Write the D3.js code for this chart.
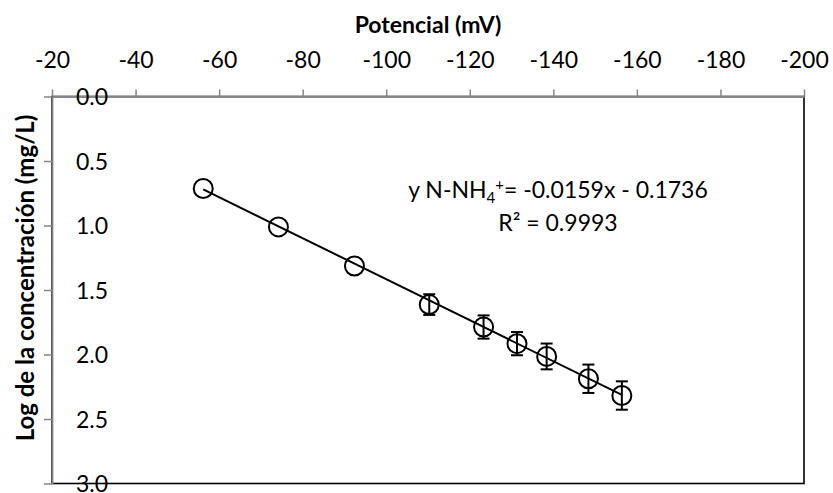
<!DOCTYPE html>
<html>
<head>
<meta charset="utf-8">
<script src="https://cdn.jsdelivr.net/npm/d3@7"></script>
<style>
  html, body { margin: 0; padding: 0; background: #fff; }
  svg { display: block; font-family: Lato, "Open Sans", sans-serif; }
</style>
</head>
<body>
<svg id="chart" width="833" height="493"></svg>
<script>
// ---- data ----
const potential = [-56.2, -74.2, -92.4, -110.3, -123.3, -131.3, -138.4, -148.4, -156.4];
const logConc   = [0.713, 1.011, 1.314, 1.613, 1.787, 1.916, 2.015, 2.188, 2.318];
const errLog    = [0, 0, 0, 0.08, 0.09, 0.09, 0.10, 0.11, 0.11];
const xTicks = [-20, -40, -60, -80, -100, -120, -140, -160, -180, -200];
const yTicks = [0.0, 0.5, 1.0, 1.5, 2.0, 2.5, 3.0];
const slope = -0.0159, intercept = -0.1736, r2 = "0.9993";
const xTitle = "Potencial (mV)";
const yTitle = "Log de la concentración (mg/L)";

// ---- layout ----
const L = 52, R = 804, T = 96.5, B = 483.5;
const svg = d3.select("#chart");
const x = d3.scaleLinear().domain([-20, -200]).range([L, R]);
const y = d3.scaleLinear().domain([0, 3]).range([T, B]);

// plot area border
svg.append("rect").attr("x", L).attr("y", T).attr("width", R - L).attr("height", B - T)
  .attr("fill", "none").attr("stroke", "#000").attr("stroke-width", 1.6);

// top axis
const gx = svg.append("g").attr("transform", `translate(0,${T})`)
  .call(d3.axisTop(x).tickValues(xTicks).tickSize(7).tickSizeOuter(0).tickFormat(d => String(d)));
gx.select(".domain").attr("stroke", "#868686").attr("stroke-width", 1.8);
gx.selectAll(".tick line").attr("stroke", "#868686").attr("stroke-width", 1.5);
gx.selectAll(".tick text").attr("fill", "#000").attr("font-size", 23).attr("y", -29).attr("dy", 0)
  .style("font-family", "Lato");

// left axis
const gy = svg.append("g").attr("transform", `translate(${L},0)`)
  .call(d3.axisLeft(y).tickValues(yTicks).tickSize(8).tickSizeOuter(0).tickFormat(d3.format(".1f")));
gy.select(".domain").attr("stroke", "#868686").attr("stroke-width", 1.8);
gy.selectAll(".tick line").attr("stroke", "#868686").attr("stroke-width", 1.5);
gy.selectAll(".tick text").attr("fill", "#000").attr("font-size", 23)
  .attr("x", 40).attr("text-anchor", "middle").attr("dy", "0.35em").style("font-family", "Lato");

// titles
svg.append("text").attr("x", (L + R) / 2).attr("y", 33).attr("text-anchor", "middle")
  .attr("font-size", 23).attr("font-weight", "bold").text(xTitle);
svg.append("text").attr("transform", `translate(34,278) rotate(-90)`).attr("text-anchor", "middle")
  .attr("font-size", 24).attr("font-weight", "bold").text(yTitle);

// trendline
const xr = d3.extent(potential);
svg.append("line")
  .attr("x1", x(xr[0])).attr("y1", y(slope * xr[0] + intercept))
  .attr("x2", x(xr[1])).attr("y2", y(slope * xr[1] + intercept))
  .attr("stroke", "#000").attr("stroke-width", 2);

// error bars
const pts = potential.map((p, i) => ({ p, v: logConc[i], e: errLog[i] }));
const eb = svg.append("g").attr("stroke", "#000").attr("stroke-width", 2);
pts.filter(d => d.e > 0).forEach(d => {
  const cx = x(d.p);
  eb.append("line").attr("x1", cx).attr("x2", cx).attr("y1", y(d.v - d.e)).attr("y2", y(d.v + d.e));
  eb.append("line").attr("x1", cx - 6).attr("x2", cx + 6).attr("y1", y(d.v - d.e)).attr("y2", y(d.v - d.e));
  eb.append("line").attr("x1", cx - 6).attr("x2", cx + 6).attr("y1", y(d.v + d.e)).attr("y2", y(d.v + d.e));
});

// markers
svg.append("g").selectAll("circle").data(pts).join("circle")
  .attr("cx", d => x(d.p)).attr("cy", d => y(d.v)).attr("r", 9.5)
  .attr("fill", "none").attr("stroke", "#000").attr("stroke-width", 2);

// equation
const eq = svg.append("text").attr("x", 558).attr("y", 197.5).attr("text-anchor", "middle")
  .attr("font-size", 23);
eq.append("tspan").text("y N-NH");
eq.append("tspan").attr("font-size", 15).attr("dy", 5).text("4");
eq.append("tspan").attr("font-size", 15).attr("dy", -13).text("+");
eq.append("tspan").attr("dy", 8).text("= " + slope + "x - " + Math.abs(intercept));
svg.append("text").attr("x", 558).attr("y", 230.5).attr("text-anchor", "middle")
  .attr("font-size", 23).text("R² = " + r2);
</script>
</body>
</html>
